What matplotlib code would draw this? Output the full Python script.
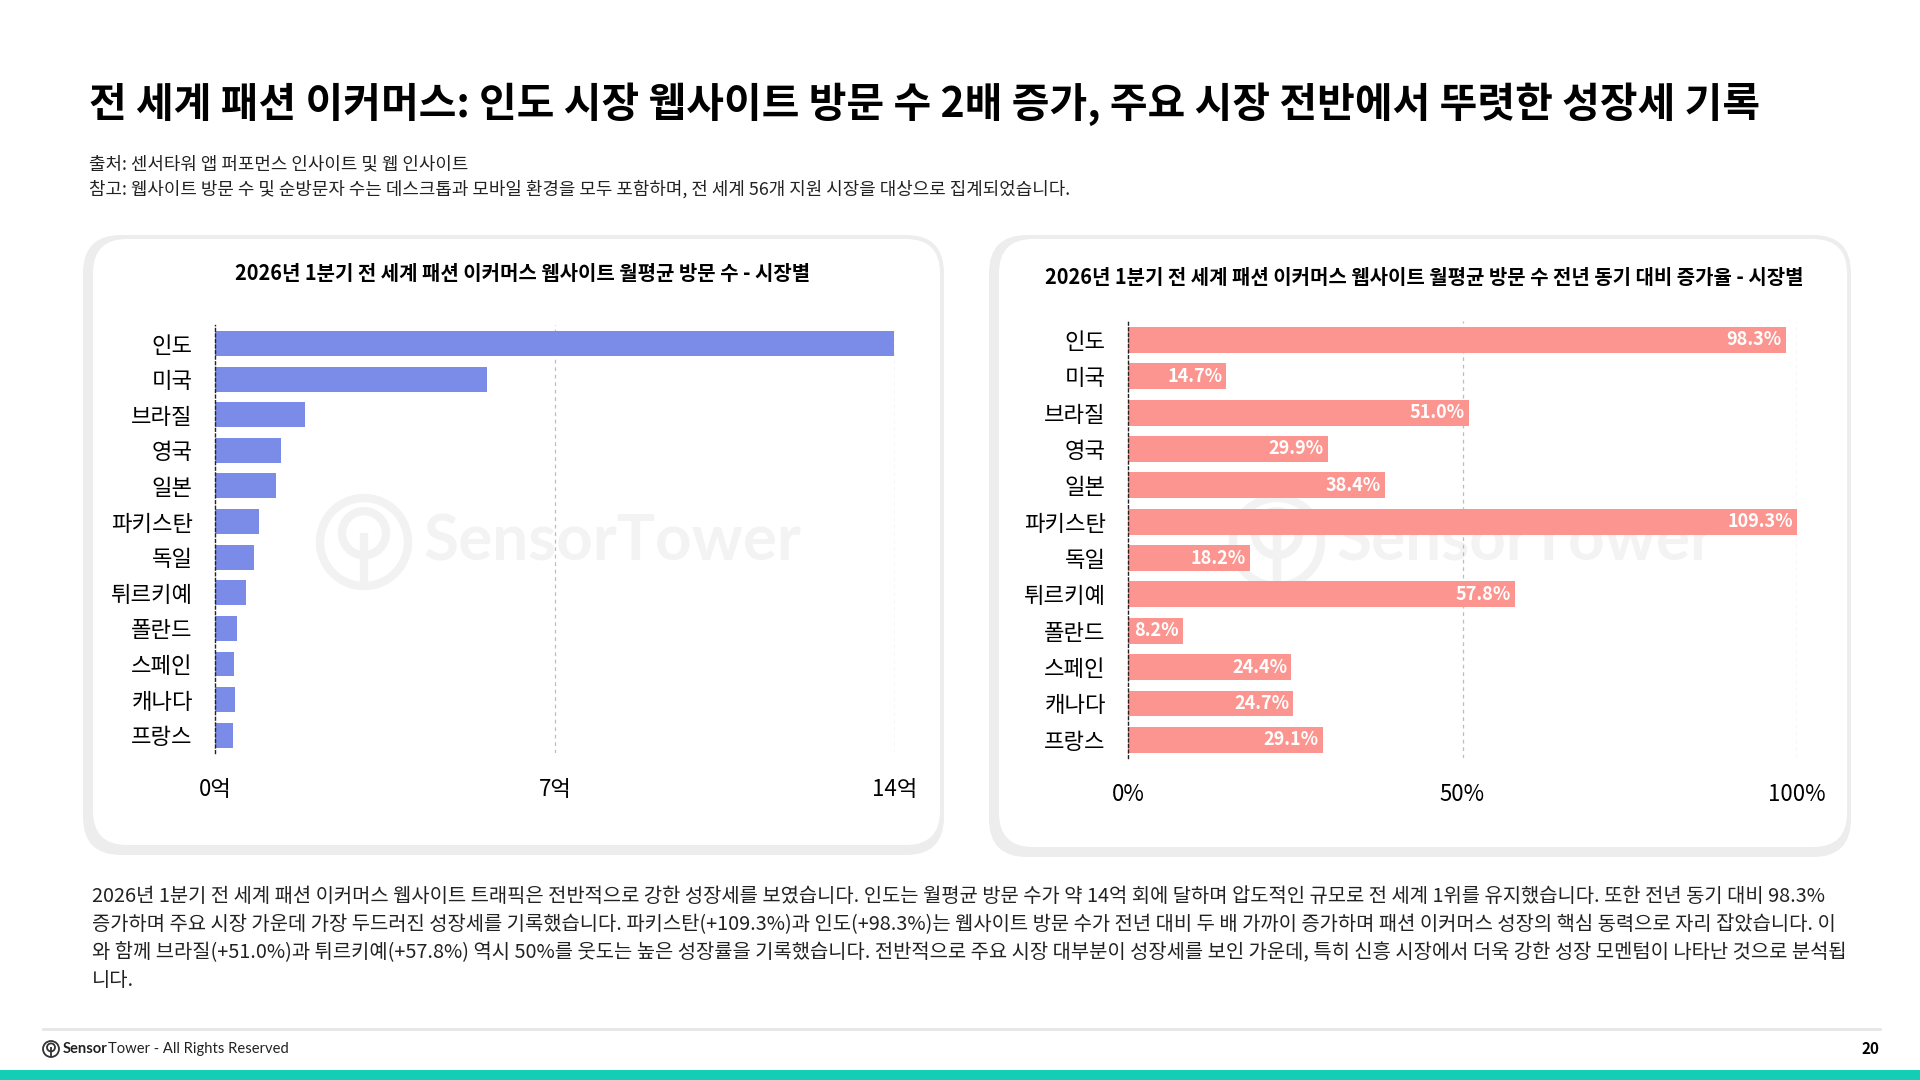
import matplotlib
matplotlib.use("Agg")
import matplotlib.pyplot as plt
from matplotlib.patches import FancyBboxPatch, Rectangle, Circle

plt.rcParams['font.family'] = ['Noto Sans CJK KR', 'DejaVu Sans']

# data
markets = ["인도", "미국", "브라질", "영국", "일본", "파키스탄", "독일", "튀르키예", "폴란드", "스페인", "캐나다", "프랑스"]
visits_100m = [13.98, 5.59, 1.85, 1.35, 1.25, 0.91, 0.81, 0.63, 0.45, 0.40, 0.41, 0.37]
yoy_growth = [98.3, 14.7, 51.0, 29.9, 38.4, 109.3, 18.2, 57.8, 8.2, 24.4, 24.7, 29.1]

left_ticks = [0, 7, 14]
left_tick_labels = ["0억", "7억", "14억"]
right_ticks = [0, 50, 100]
right_tick_labels = ["0%", "50%", "100%"]

title = "전 세계 패션 이커머스: 인도 시장 웹사이트 방문 수 2배 증가, 주요 시장 전반에서 뚜렷한 성장세 기록"
source = "출처: 센서타워 앱 퍼포먼스 인사이트 및 웹 인사이트"
note = "참고: 웹사이트 방문 수 및 순방문자 수는 데스크톱과 모바일 환경을 모두 포함하며, 전 세계 56개 지원 시장을 대상으로 집계되었습니다."
left_title = "2026년 1분기 전 세계 패션 이커머스 웹사이트 월평균 방문 수 - 시장별"
right_title = "2026년 1분기 전 세계 패션 이커머스 웹사이트 월평균 방문 수 전년 동기 대비 증가율 - 시장별"
body_lines = [
    "2026년 1분기 전 세계 패션 이커머스 웹사이트 트래픽은 전반적으로 강한 성장세를 보였습니다. 인도는 월평균 방문 수가 약 14억 회에 달하며 압도적인 규모로 전 세계 1위를 유지했습니다. 또한 전년 동기 대비 98.3%",
    "증가하며 주요 시장 가운데 가장 두드러진 성장세를 기록했습니다. 파키스탄(+109.3%)과 인도(+98.3%)는 웹사이트 방문 수가 전년 대비 두 배 가까이 증가하며 패션 이커머스 성장의 핵심 동력으로 자리 잡았습니다. 이",
    "와 함께 브라질(+51.0%)과 튀르키예(+57.8%) 역시 50%를 웃도는 높은 성장률을 기록했습니다. 전반적으로 주요 시장 대부분이 성장세를 보인 가운데, 특히 신흥 시장에서 더욱 강한 성장 모멘텀이 나타난 것으로 분석됩",
    "니다.",
]

W, H = 1920, 1080
fig = plt.figure(figsize=(19.2, 10.8), dpi=100)
fig.patch.set_facecolor("white")

# background axes in pixel coordinates (y down) for cards, watermark, footer
bg = fig.add_axes([0, 0, 1, 1], zorder=-1)
bg.set_xlim(0, W)
bg.set_ylim(H, 0)
bg.axis("off")


def panel(x0, y0, x1, y1):
    bg.add_patch(FancyBboxPatch((x0, y0), x1 - x0, y1 - y0, boxstyle="round,pad=0,rounding_size=38",
                                facecolor="#EDEDED", edgecolor="none"))
    bg.add_patch(FancyBboxPatch((x0 + 10, y0 + 4), x1 - x0 - 14, y1 - y0 - 14,
                                boxstyle="round,pad=0,rounding_size=34",
                                facecolor="white", edgecolor="none"))


def logo(cx, cy, r, color, lw):
    bg.add_patch(Circle((cx, cy), r, fill=False, edgecolor=color, linewidth=lw))
    bg.add_patch(Circle((cx, cy - r * 0.2), r * 0.5, fill=False, edgecolor=color, linewidth=lw))
    bg.plot([cx, cx], [cy - r * 0.2, cy + r * 0.95], color=color, linewidth=lw, solid_capstyle="butt")


panel(83, 235, 944, 855)
panel(989, 235, 1851, 857)

for cx, tx in [(364, 424), (1277, 1337)]:
    logo(cx, 542, 44, "#F2F2F2", 6)
    bg.text(tx, 542, "SensorTower", fontsize=46, fontweight="bold", color="#F3F3F3",
            ha="left", va="center", family=["Lato", "DejaVu Sans"])

# titles
bg.text(89, 104, title, fontsize=29.5, fontweight="black", ha="left", va="center", color="black")
bg.text(89, 164, source, fontsize=12.9, ha="left", va="center", color="#222222")
bg.text(89, 189, note, fontsize=12.9, ha="left", va="center", color="#222222")
bg.text(523, 273, left_title, fontsize=14.4, fontweight="bold", ha="center", va="center")
bg.text(1424, 278, right_title, fontsize=14.4, fontweight="bold", ha="center", va="center")

for i, line in enumerate(body_lines):
    bg.text(92, 896 + i * 28.3, line, fontsize=14.3, ha="left", va="center", color="#222222")


def style_axes(ax, ticks, labels, ypad):
    ax.patch.set_visible(False)
    for s in ["top", "right", "bottom"]:
        ax.spines[s].set_visible(False)
    ax.spines["left"].set_linestyle((0, (2, 2)))
    ax.spines["left"].set_linewidth(1)
    ax.spines["left"].set_color("#222222")
    ax.set_xticks(ticks)
    ax.set_xticklabels(labels, fontsize=16)
    ax.set_yticks(range(len(markets)))
    ax.set_yticklabels(markets, fontsize=16)
    ax.tick_params(axis="x", length=0, pad=18)
    ax.tick_params(axis="y", length=0, pad=ypad)
    for t in ticks[1:]:
        ax.axvline(t, color="#BDBDBD", linestyle=(0, (3, 3)), linewidth=0.9, zorder=0)
    ax.set_ylim(len(markets) - 0.5, -0.52)


# left chart
ax1 = fig.add_axes([215 / W, 1 - 753 / H, 680 / W, 428 / H])
ax1.barh(range(len(markets)), visits_100m, height=0.7, color="#7A8BE8", zorder=2)
ax1.set_xlim(0, 14)
style_axes(ax1, left_ticks, left_tick_labels, 16)

# right chart
ax2 = fig.add_axes([1128 / W, 1 - 758 / H, 669 / W, 437 / H])
ax2.barh(range(len(markets)), yoy_growth, height=0.71, color="#FC958F", zorder=2)
ax2.set_xlim(0, 100)
style_axes(ax2, right_ticks, right_tick_labels, 16)
for i, v in enumerate(yoy_growth):
    ax2.annotate(f"{v:.1f}%", xy=(min(v, 100), i), xytext=(-3, 0), textcoords="offset points",
                 ha="right", va="center", color="white", fontsize=13, fontweight="bold", zorder=3)

# footer
bg.plot([43, 1880], [1029, 1029], color="#E6E6E6", linewidth=2)
logo(51, 1049, 8, "#333333", 1.3)
bg.text(63, 1049, "Sensor", fontsize=10.6, fontweight="bold", ha="left", va="center",
        family=["Lato", "DejaVu Sans"], color="#222222")
bg.text(108, 1049, "Tower - All Rights Reserved", fontsize=10.6, ha="left", va="center",
        family=["Lato", "DejaVu Sans"], color="#222222")
bg.text(1879, 1049, "20", fontsize=11, fontweight="bold", ha="right", va="center")
bg.add_patch(Rectangle((0, 1070), W, 10, facecolor="#14CDB5", edgecolor="none"))

fig.savefig("out.png", dpi=100)
